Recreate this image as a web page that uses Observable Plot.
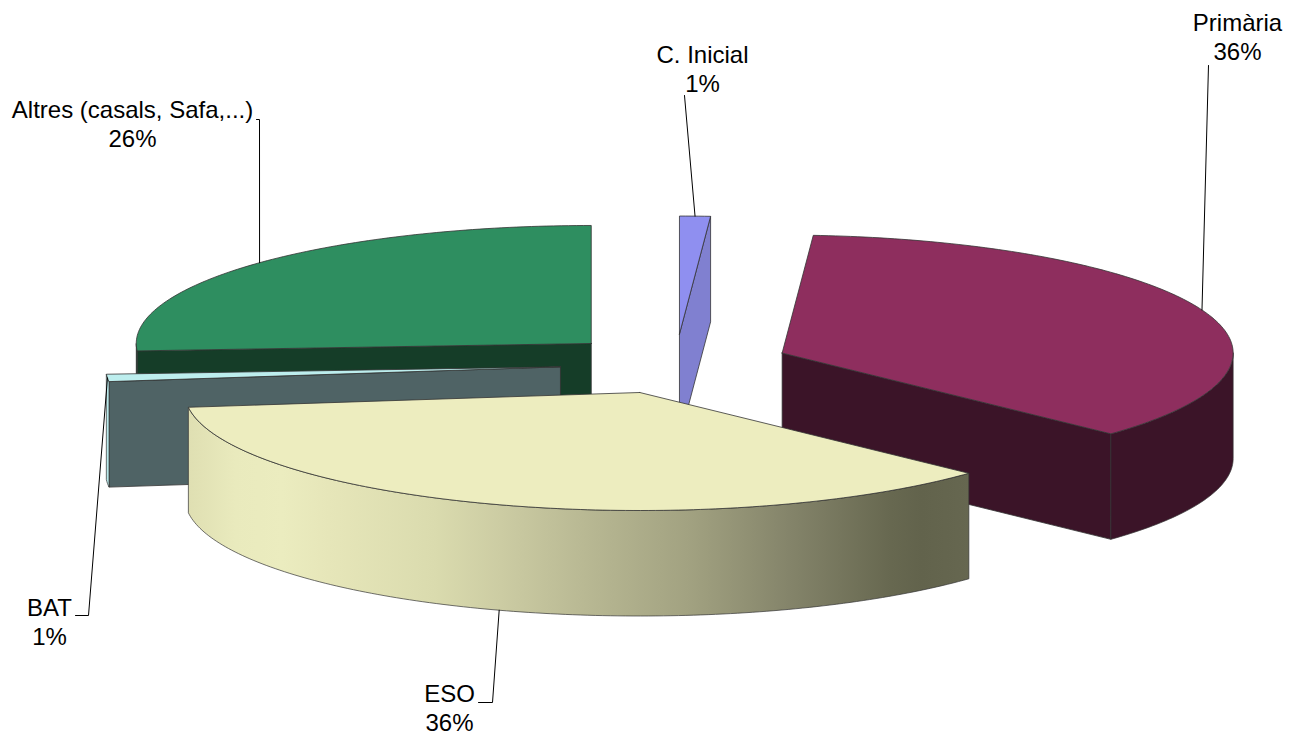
<!DOCTYPE html>
<html>
<head>
<meta charset="utf-8">
<script src="https://cdn.jsdelivr.net/npm/d3@7"></script>
<script src="https://cdn.jsdelivr.net/npm/@observablehq/plot@0.6"></script>
<style>html,body{margin:0;padding:0;background:#fff}svg{display:block}</style>
</head>
<body>
<div id="chart"></div>
<script>
// Data, clockwise from the back of the pie
const categories = ["C. Inicial", "Primària", "ESO", "BAT", "Altres (casals, Safa,...)"];
const shares = [1.1, 35.9, 36, 1, 26];
const shareLabels = ["1%", "36%", "36%", "1%", "26%"];

// Style
const topColors = ["#8f8ff0", "#8e2e5e", "#ededbf", "#bdeeee", "#2e8e60"];
const wallColors = ["#8080d0", "#3b1428", "#3b1428", "#4f6365", "#153d28"];
const rimColors = ["#8080d0", "#3b1428", "url(#esoRim)", "#b9e8ea", "#153d28"];
const paintOrder = [4, 0, 1, 3, 2];

// Layout (pixels) of the oblique pie
const W = 1289, H = 735;
const cx = 675, cy = 363.5, Rl = 455, Rr = 451, ry = 118, depthPx = 105.5, explode = 0.254;
const px = (v) => (v - cx) / (v < cx ? Rl : Rr);
const py = (v) => (cy - v) / ry;
const depth = depthPx / ry;

// Text centres and leader elbows (pixels)
const labelX = [702, 1237, 449, 49, 132];
const labelY = [68, 36, 707, 621, 123];
const leaderEnd = [[684, 95], [1208, 65], [478, 702], [75, 615], [256, 119]];
const leaderElbow = [null, null, [492, 702], [88, 615], [259, 119]];

const total = d3.sum(shares);
const toRad = (f) => (f / total) * 2 * Math.PI;
const cum = d3.cumsum(shares);
const slices = shares.map((s, i) => {
  const a0 = toRad(i ? cum[i - 1] : 0), a1 = toRad(cum[i]), m = (a0 + a1) / 2;
  return {i, a0, a1, m, ox: explode * Math.sin(m), oy: explode * Math.cos(m)};
});
const rimPt = (s, a, dz = 0) => ({x: s.ox + Math.sin(a), y: s.oy + Math.cos(a) - dz});
const apex = (s, dz = 0) => ({x: s.ox, y: s.oy - dz});
const arc = (s, a0, a1, dz = 0) => {
  const n = Math.max(2, Math.ceil(Math.abs(a1 - a0) * 60));
  return d3.range(n + 1).map((k) => rimPt(s, a0 + (a1 - a0) * k / n, dz));
};
const closed = (p) => [...p, p[0]];
const lineStroke = "#333";
const poly = (p, fill, sw = 0.8) =>
  Plot.line(closed(p), {x: "x", y: "y", fill, stroke: lineStroke, strokeWidth: sw, strokeLinejoin: "round"});

function sliceMarks(s) {
  const out = [];
  const HALF = Math.PI;
  if (Math.cos(s.a0 - Math.PI / 2) < 0)
    out.push(poly([apex(s), rimPt(s, s.a0), rimPt(s, s.a0, depth), apex(s, depth)], wallColors[s.i]));
  if (Math.cos(s.a1 + Math.PI / 2) < 0)
    out.push(poly([apex(s), rimPt(s, s.a1), rimPt(s, s.a1, depth), apex(s, depth)], wallColors[s.i]));
  const r0 = Math.max(s.a0, HALF / 2), r1 = Math.min(s.a1, 1.5 * HALF);
  if (r1 > r0)
    out.push(poly([...arc(s, r0, r1), ...arc(s, r1, r0, depth)], rimColors[s.i], 0.7));
  out.push(poly([apex(s), ...arc(s, s.a0, s.a1)], topColors[s.i]));
  return out;
}

// Gradient definition for the front rim
const gradientStops = [[0, "#dfdfb2"], [0.06, "#e9eabd"], [0.12, "#ebecbf"], [0.18, "#e6e6b9"], [0.315, "#dadbae"],
  [0.4, "#cccca3"], [0.51, "#b8b893"], [0.64, "#a2a281"], [0.77, "#84846a"], [0.9, "#676850"], [0.94, "#62634c"], [1, "#666750"]];
const defs = () => {
  const d = d3.create("svg:defs");
  const g = d.append("linearGradient").attr("id", "esoRim").attr("x1", 0).attr("x2", 1).attr("y1", 0).attr("y2", 0);
  gradientStops.forEach(([o, c]) => g.append("stop").attr("offset", o).attr("stop-color", c));
  return d.node();
};

// Leader lines start on the rim at each slice's middle angle
const leaders = slices.map((s) => {
  const pts = [];
  const a = s.m;
  const dz = Math.cos(a) < 0 && s.i === 2 ? depth : 0;
  pts.push(rimPt(s, a, dz));
  if (leaderElbow[s.i]) pts.push({x: px(leaderElbow[s.i][0]), y: py(leaderElbow[s.i][1])});
  pts.push({x: px(leaderEnd[s.i][0]), y: py(leaderEnd[s.i][1])});
  return pts;
});

const labels = categories.map((c, i) => ({text: c + "\n" + shareLabels[i], x: px(labelX[i]), y: py(labelY[i])}));

const chart = Plot.plot({
  width: W, height: H, margin: 0,
  style: {background: "#fff", fontFamily: "'Liberation Sans', Arial, sans-serif"},
  x: {type: "linear", domain: [-2, 0, 2], range: [cx - 2 * Rl, cx, cx + 2 * Rr], axis: null},
  y: {type: "linear", domain: [-1, 1], range: [cy + ry, cy - ry], axis: null},
  marks: [
    defs,
    ...paintOrder.flatMap((i) => sliceMarks(slices[i])),
    ...leaders.map((l) => Plot.line(l, {x: "x", y: "y", stroke: "#000", strokeWidth: 1})),
    Plot.text(labels, {x: "x", y: "y", text: "text", fontSize: 24, lineHeight: 1.17, fill: "#000", textAnchor: "middle"})
  ]
});
document.getElementById("chart").append(chart);
</script>
</body>
</html>
